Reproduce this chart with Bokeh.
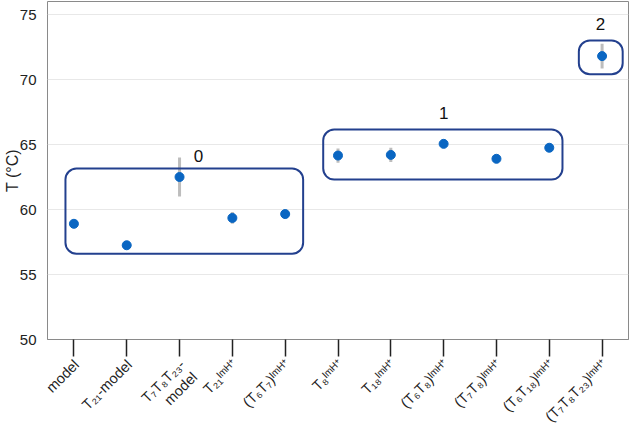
import numpy as np
from bokeh.plotting import figure
from bokeh.layouts import column
from bokeh.models import Range1d, FixedTicker, BoxAnnotation
from bokeh.embed import file_html
from bokeh.resources import INLINE
from bokeh.core.properties import value

# ---- data ----
categories = [
    "model",
    "T\u2082\u2081-model",
    "T\u2087T\u2088T\u2082\u2083-\nmodel",
    "T\u2082\u2081\u1d35\u1d50\u1d34\u207a",
    "(T\u2086T\u2087)\u1d35\u1d50\u1d34\u207a",
    "T\u2088\u1d35\u1d50\u1d34\u207a",
    "T\u2081\u2088\u1d35\u1d50\u1d34\u207a",
    "(T\u2086T\u2088)\u1d35\u1d50\u1d34\u207a",
    "(T\u2087T\u2088)\u1d35\u1d50\u1d34\u207a",
    "(T\u2086T\u2081\u2088)\u1d35\u1d50\u1d34\u207a",
    "(T\u2087T\u2088T\u2082\u2083)\u1d35\u1d50\u1d34\u207a",
]
temps = [58.9, 57.25, 62.5, 59.35, 59.65, 64.15, 64.2, 65.05, 63.9, 64.75, 71.8]
errors = [0.2, 0.2, 1.5, 0.45, 0.2, 0.55, 0.55, 0.2, 0.2, 0.2, 0.95]

cluster_ids = ["0", "1", "2"]
cluster_left = [-0.16, 4.72, 9.56]
cluster_right = [4.34, 9.25, 10.39]
cluster_bottom = [56.6, 62.3, 70.4]
cluster_top = [63.15, 66.15, 73.0]
cluster_label_x = [2.36, 7.0, 9.97]
cluster_label_y = [64.15, 67.45, 74.3]

y_ticks = [50, 55, 60, 65, 70, 75]

# ---- layout constants ----
FONT = "Liberation Sans"
W = 630
BL, BR = 44, 2               # frame borders left / right
N = len(categories)
xs = list(range(N))
lo = [t - e for t, e in zip(temps, errors)]
hi = [t + e for t, e in zip(temps, errors)]

PH = 357                     # main canvas height (frame bottom at 339)
QH = 424 - PH                # label strip height

# ---- main plot ----
p = figure(width=W, height=PH, output_backend="svg", toolbar_location=None,
           x_range=Range1d(-0.5, N - 0.5), y_range=Range1d(50, 76),
           min_border_left=BL, min_border_right=BR, min_border_top=1,
           min_border_bottom=PH - 339)

p.background_fill_color = "white"
p.border_fill_color = "white"
p.outline_line_color = "#8a8a8a"
p.outline_line_width = 1

p.xgrid.visible = False
p.ygrid.ticker = FixedTicker(ticks=y_ticks)
p.ygrid.grid_line_color = "#e8e8e8"
p.ygrid.grid_line_width = 1

p.yaxis.ticker = FixedTicker(ticks=y_ticks)
p.yaxis.axis_line_color = None
p.yaxis.major_tick_line_color = None
p.yaxis.major_tick_out = 0
p.yaxis.major_tick_in = 0
p.yaxis.minor_tick_line_color = None
p.yaxis.major_label_text_font = FONT
p.yaxis.major_label_text_font_size = "15px"
p.yaxis.major_label_text_color = "#222222"
p.yaxis.major_label_standoff = 11
p.yaxis.axis_label = "T (°C)"
p.yaxis.axis_label_text_font = FONT
p.yaxis.axis_label_text_font_size = "16px"
p.yaxis.axis_label_text_font_style = "normal"
p.yaxis.axis_label_text_color = "#222222"
p.yaxis.axis_label_standoff = -4

p.xaxis.ticker = FixedTicker(ticks=xs)
p.xaxis.major_label_overrides = {i: "" for i in xs}
p.xaxis.major_label_text_font_size = "1px"
p.xaxis.major_label_standoff = 0
p.xaxis.axis_line_color = "#8a8a8a"
p.xaxis.major_tick_in = 0
p.xaxis.major_tick_out = 17
p.xaxis.major_tick_line_color = "#222222"
p.xaxis.major_tick_line_width = 1.5
p.xaxis.minor_tick_line_color = None

p.segment(x0=xs, y0=lo, x1=xs, y1=hi, line_color="#bdbdbd", line_width=3)
p.scatter(x=xs, y=temps, size=9, fill_color="#0a66c2", line_color="#0a66c2")

for l, r, b, t in zip(cluster_left, cluster_right, cluster_bottom, cluster_top):
    p.add_layout(BoxAnnotation(left=l, right=r, bottom=b, top=t,
                               fill_color=None, fill_alpha=0,
                               line_color="#23408e", line_alpha=1, line_width=2,
                               border_radius=11))

p.text(x=cluster_label_x, y=cluster_label_y, text=cluster_ids,
       text_font=value(FONT), text_font_size="17px", text_color="#111111",
       text_align="center", text_baseline="middle")

# ---- category label strip (rotated labels), same frame as the main plot ----
q = figure(width=W, height=QH, output_backend="svg", toolbar_location=None,
           x_range=p.x_range, y_range=Range1d(-QH, 0),
           x_axis_location=None, y_axis_location=None,
           min_border_left=BL, min_border_right=BR, min_border_top=0, min_border_bottom=0)
q.outline_line_color = None
q.background_fill_color = "white"
q.border_fill_color = "white"
q.grid.visible = False

q.text(x=xs, y=[1] * N, text=categories, x_offset=-3,
       angle=np.pi / 4, text_align="right", text_baseline="top",
       text_font=value(FONT), text_font_size="14.5px", text_color="#222222",
       text_line_height=1.1)

layout = column(p, q, spacing=0)
open("out.html", "w").write(file_html(layout, INLINE))
